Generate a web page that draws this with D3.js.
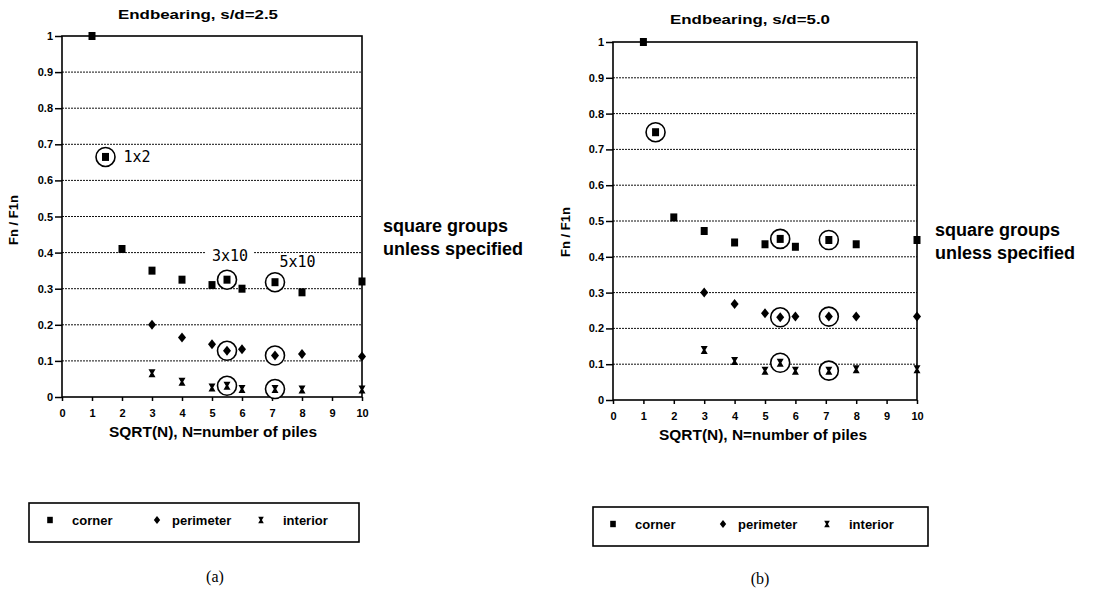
<!DOCTYPE html>
<html>
<head>
<meta charset="utf-8">
<script src="https://cdn.jsdelivr.net/npm/d3@7"></script>
<style>
  body { margin: 0; background: #fff; }
  text { font-family: "Liberation Sans", Arial, sans-serif; fill: #000; }
  .tick text { font-weight: bold; font-size: 11px; }
  .grid line { stroke: #111; stroke-dasharray: 2,1; }
</style>
</head>
<body>
<script>
var width = 1093,
    height = 591;

// ticks
var xTicks = [0, 1, 2, 3, 4, 5, 6, 7, 8, 9, 10];
var yTicks = [0, 0.1, 0.2, 0.3, 0.4, 0.5, 0.6, 0.7, 0.8, 0.9, 1];
var seriesNames = ["corner", "perimeter", "interior"];

// SQRT(N) positions that are circled (non square groups)
var circledX = [1.45, 1.4, 5.5, 7.1];

// (a) s/d = 2.5
var cornerA    = [[1, 1.0], [1.45, 0.665], [2, 0.41], [3, 0.35], [4, 0.325], [5, 0.31], [5.5, 0.325], [6, 0.30], [7.1, 0.318], [8, 0.29], [10, 0.32]];
var perimeterA = [[3, 0.2], [4, 0.165], [5, 0.146], [5.5, 0.128], [6, 0.132], [7.1, 0.115], [8, 0.119], [10, 0.112]];
var interiorA  = [[3, 0.066], [4, 0.042], [5, 0.026], [5.5, 0.031], [6, 0.022], [7.1, 0.022], [8, 0.021], [10, 0.021]];
var labelsA    = [["1x2", 2.5, 0.665], ["3x10", 5.6, 0.39], ["5x10", 7.85, 0.374]];

// (b) s/d = 5.0
var cornerB    = [[1, 1.0], [1.4, 0.748], [2, 0.51], [3, 0.472], [4, 0.44], [5, 0.435], [5.5, 0.45], [6, 0.428], [7.1, 0.447], [8, 0.435], [10, 0.447]];
var perimeterB = [[3, 0.30], [4, 0.268], [5, 0.242], [5.5, 0.231], [6, 0.233], [7.1, 0.233], [8, 0.233], [10, 0.233]];
var interiorB  = [[3, 0.14], [4, 0.109], [5, 0.082], [5.5, 0.104], [6, 0.082], [7.1, 0.082], [8, 0.086], [10, 0.086]];

var svg = d3.select("body").append("svg")
    .attr("width", width)
    .attr("height", height);

var symbols = {
  corner: "M-3.5,-4H3.5V4H-3.5Z",
  perimeter: "M0,-5L4,0L0,5L-4,0Z",
  interior: "M-3.5,-4H3.5L1.2,0L3.5,4H-3.5L-1.2,0Z"
};

function drawPanel(p) {
  var x = d3.scaleLinear().domain([0, 10]).range([p.left, p.left + p.w]);
  var y = d3.scaleLinear().domain([0, 1]).range([p.top + p.h, p.top]);
  var g = svg.append("g");

  // dotted grid lines
  g.append("g").attr("class", "grid")
    .selectAll("line")
    .data(yTicks.filter(function(d) { return d > 0 && d < 1; }))
    .enter().append("line")
    .attr("x1", x(0)).attr("x2", x(10))
    .attr("y1", d => y(d)).attr("y2", d => y(d));

  // frame
  g.append("rect")
    .attr("x", x(0)).attr("y", y(1))
    .attr("width", x(10) - x(0)).attr("height", y(0) - y(1))
    .attr("fill", "none").attr("stroke", "#000").attr("stroke-width", 1.6);

  var yAxis = d3.axisLeft(y).tickValues(yTicks).tickSize(7).tickPadding(2)
    .tickFormat(function(d) { return d === 0 || d === 1 ? d : d.toFixed(1); });
  g.append("g").attr("transform", "translate(" + x(0) + ",0)").call(yAxis)
    .call(s => s.select(".domain").remove())
    .call(s => s.selectAll(".tick line").attr("stroke-width", 1.5));

  var xAxis = d3.axisBottom(x).tickValues(xTicks).tickSize(4).tickPadding(8)
    .tickFormat(d3.format("d"));
  g.append("g").attr("transform", "translate(0," + y(0) + ")").call(xAxis)
    .call(s => s.select(".domain").remove())
    .call(s => s.selectAll(".tick line").attr("stroke-width", 1.5));

  // group size labels
  p.labels.forEach(function(l) {
    var t = g.append("text")
      .attr("x", x(l[1]))
      .attr("y", y(l[2]))
      .attr("dy", "0.35em")
      .attr("text-anchor", "middle")
      .style("font-family", "'DejaVu Sans Mono', monospace")
      .style("font-size", "15px")
      .text(l[0]);
    var b = t.node().getBBox();
    g.insert("rect", function() { return t.node(); })
      .attr("x", b.x - 6).attr("y", b.y).attr("width", b.width + 12).attr("height", b.height)
      .attr("fill", "#fff");
  });

  // circles around non-square groups
  var all = [].concat(p.corner, p.perimeter, p.interior)
    .filter(function(d) { return circledX.indexOf(d[0]) >= 0; });
  g.selectAll("circle.ring")
    .data(all)
    .enter().append("circle")
    .attr("class", "ring")
    .attr("cx", d => x(d[0]))
    .attr("cy", d => y(d[1]))
    .attr("r", 9.5)
    .attr("fill", "#fff")
    .attr("stroke", "#000")
    .attr("stroke-width", 1.6);

  [["corner", p.corner], ["perimeter", p.perimeter], ["interior", p.interior]].forEach(function(s) {
    g.selectAll("path." + s[0])
      .data(s[1])
      .enter().append("path")
      .attr("class", s[0])
      .attr("d", symbols[s[0]])
      .attr("transform", d => "translate(" + x(d[0]) + "," + y(d[1]) + ")")
      .attr("fill", "#000");
  });

  // titles
  g.append("text")
    .attr("x", p.titleX).attr("y", p.titleY)
    .attr("text-anchor", "middle")
    .attr("textLength", 160).attr("lengthAdjust", "spacingAndGlyphs")
    .style("font-weight", "bold").style("font-size", "13px")
    .text(p.title);

  g.append("text")
    .attr("transform", "translate(" + p.ylabX + "," + p.ylabY + ") rotate(-90)")
    .attr("text-anchor", "middle")
    .style("font-weight", "bold").style("font-size", "13px")
    .text("Fn / F1n");

  g.append("text")
    .attr("x", p.xlabX).attr("y", y(0) + 40)
    .attr("text-anchor", "middle")
    .attr("textLength", 208).attr("lengthAdjust", "spacingAndGlyphs")
    .style("font-weight", "bold").style("font-size", "14px")
    .text("SQRT(N), N=number of piles");

  // note on the right
  var note = g.append("text")
    .attr("x", p.noteX).attr("y", p.noteY)
    .style("font-weight", "bold").style("font-size", "18px");
  note.append("tspan").attr("x", p.noteX).text("square groups");
  note.append("tspan").attr("x", p.noteX).attr("dy", 23).text("unless specified");

  // legend
  var lg = g.append("g").attr("transform", "translate(" + p.leg[0] + "," + p.leg[1] + ")");
  lg.append("rect")
    .attr("width", p.leg[2]).attr("height", 39)
    .attr("fill", "none").attr("stroke", "#000").attr("stroke-width", 1.6);
  var item = lg.selectAll("g.item")
    .data(seriesNames)
    .enter().append("g")
    .attr("transform", function(d, i) { return "translate(" + p.legX[i] + ",17)"; });
  item.append("path").attr("d", d => symbols[d]).attr("transform", "scale(0.8)").attr("fill", "#000");
  item.append("text")
    .attr("x", function(d, i) { return [22, 15, 22][i]; })
    .attr("dy", "0.35em")
    .style("font-weight", "bold").style("font-size", "13px")
    .text(d => d);

  g.append("text")
    .attr("x", p.capX).attr("y", p.capY)
    .attr("text-anchor", "middle")
    .style("font-family", "'Liberation Serif', serif").style("font-size", "16px")
    .text(p.caption);
}

drawPanel({
  left: 62, top: 36, w: 300, h: 361,
  corner: cornerA, perimeter: perimeterA, interior: interiorA, labels: labelsA,
  title: "Endbearing, s/d=2.5", titleX: 198, titleY: 19,
  ylabX: 18, ylabY: 220, xlabX: 213,
  noteX: 383, noteY: 232,
  leg: [29, 503, 330], legX: [21, 128, 232],
  caption: "(a)", capX: 215, capY: 582
});

drawPanel({
  left: 613, top: 42, w: 304, h: 358,
  corner: cornerB, perimeter: perimeterB, interior: interiorB, labels: [],
  title: "Endbearing, s/d=5.0", titleX: 750, titleY: 24,
  ylabX: 570, ylabY: 232, xlabX: 763,
  noteX: 935, noteY: 236,
  leg: [593, 507, 335], legX: [20, 130, 234],
  caption: "(b)", capX: 760, capY: 584
});
</script>
</body>
</html>
